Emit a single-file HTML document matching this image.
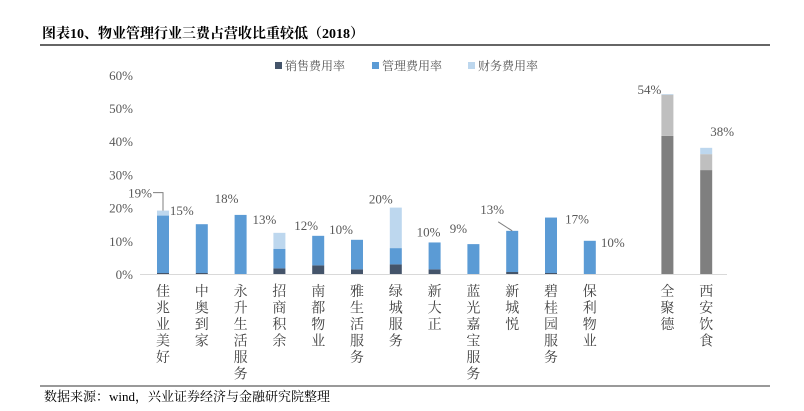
<!DOCTYPE html>
<html><head><meta charset="utf-8"><style>
body{margin:0;background:#fff;width:804px;height:406px;overflow:hidden;font-family:"Liberation Serif","Noto Serif CJK SC",serif}
</style></head><body>
<svg width="804" height="406" xmlns="http://www.w3.org/2000/svg">
<text x="42" y="38" font-size="14" font-weight="bold" fill="#000">图表10、物业管理行业三费占营收比重较低（2018）</text>
<line x1="40" y1="45" x2="770" y2="45" stroke="#333" stroke-width="1.5"/>
<line x1="40" y1="386" x2="770" y2="386" stroke="#333" stroke-width="1"/>
<text x="44" y="401" font-size="13" fill="#000">数据来源：wind，兴业证券经济与金融研究院整理</text>
<g id="legend">
<rect x="275" y="62" width="7" height="7" fill="#44546a"/>
<text x="285" y="70" font-size="12" fill="#555">销售费用率</text>
<rect x="372" y="62" width="7" height="7" fill="#5b9bd5"/>
<text x="382" y="70" font-size="12" fill="#555">管理费用率</text>
<rect x="468" y="62" width="7" height="7" fill="#bdd7ee"/>
<text x="478" y="70" font-size="12" fill="#555">财务费用率</text>
</g>
<g id="axis"></g><g id="bars"></g><g id="labels"></g>
</svg>
<script>
const categories=["佳兆业美好","中奥到家","永升生活服务","招商积余","南都物业","雅生活服务","绿城服务","新大正","蓝光嘉宝服务","新城悦","碧桂园服务","保利物业","","全聚德","西安饮食"];
const sales=[0.3,0.3,0,1.7,2.6,1.4,2.9,1.4,0,0.6,0.3,0,0,41.6,31.3];
const admin=[17.3,14.7,17.8,5.9,8.9,8.9,4.9,8.1,9.0,12.4,16.7,10.0,0,12.4,4.8];
const finance=[1.5,0,0,4.8,0,0,12.2,0,0,0,0,0,0,0.2,1.9];
const totalLabels=["19%","15%","18%","13%","12%","10%","20%","10%","9%","13%","17%","10%","","54%","38%"];
const yTicks=[0,10,20,30,40,50,60];
const NS="http://www.w3.org/2000/svg";
const y0=274,pxPer=3.32,x0=163,step=38.8,bw=12;
const Y=v=>y0-v*pxPer, X=i=>x0+i*step;
const ax=document.getElementById('axis'),bg=document.getElementById('bars'),lg=document.getElementById('labels');
function mk(tag,attrs,parent){const e=document.createElementNS(NS,tag);for(const k in attrs)e.setAttribute(k,attrs[k]);parent.appendChild(e);return e;}
yTicks.forEach(t=>{const e=mk('text',{x:133,y:Y(t)+5,'font-size':13,'text-anchor':'end',fill:'#595959'},ax);e.textContent=t+'%';

});
const bl=mk('line',{x1:140,y1:y0+0.5,x2:727,y2:y0+0.5,stroke:'#d9d9d9'},ax);


const ldx=[-23,-20,-14,-15,-12,-16,-15,-6,-15,-20,26,23,0,-18,16];
const ldy=[13,9,12,9,6,6,4,6,11,17,-6,-6,0,0,12];
categories.forEach((c,i)=>{
 if(!c)return;
 const gray=i>=13;
 const cols=gray?['#7f7f7f','#bfbfbf','#bdd7ee']:['#44546a','#5b9bd5','#bdd7ee'];
 let base=0;
 [sales[i],admin[i],finance[i]].forEach((v,k)=>{ if(v<=0)return;
  const r=mk('rect',{x:X(i)-bw/2,y:Y(base+v),width:bw,height:v*pxPer,fill:cols[k]},bg);
  
  
  base+=v;});
 const t=mk('text',{x:X(i)+ldx[i],y:Y(base)-ldy[i],'font-size':13,'text-anchor':'middle',fill:'#595959'},lg);
 t.textContent=totalLabels[i];
 
 
 if(i===0){const p=mk('polyline',{points:`${X(i)-10},${Y(base)-18} ${X(i)},${Y(base)-18} ${X(i)},${Y(base)}`,fill:'none',stroke:'#7f7f7f'},lg);
  
  }
 if(i===9){const p=mk('line',{x1:X(i)-14,y1:Y(base)-9,x2:X(i),y2:Y(base),stroke:'#7f7f7f'},lg);
  
  }
 [...c].forEach((ch,j)=>{const e=mk('text',{x:X(i),y:296+j*16.5,'font-size':14,'text-anchor':'middle',fill:'#404040'},ax);e.textContent=ch;
  
  });
});
</script>
</body></html>
